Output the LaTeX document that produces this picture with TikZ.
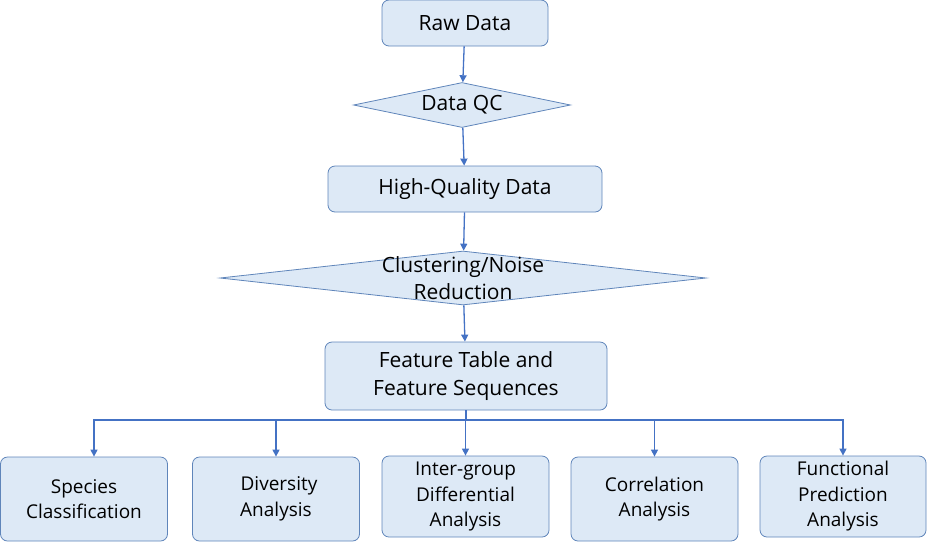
\documentclass[tikz,border=0pt]{standalone}
\usepackage{fontspec}
\setmainfont{Open Sans}
\usetikzlibrary{shapes.geometric,arrows.meta,positioning}
\definecolor{boxfill}{RGB}{221,233,246}
\definecolor{boxline}{RGB}{95,133,186}
\definecolor{flowline}{RGB}{68,114,196}

\begin{document}
\begin{tikzpicture}[x=1pt,y=-1pt,
		proc/.style={draw=boxline, fill=boxfill, rounded corners=7pt, line width=0.8pt, align=center, inner sep=0pt, font=\fontsize{21}{28}\selectfont},
		decide/.style={diamond, draw=boxline, fill=boxfill, line width=0.8pt, inner sep=0pt, aspect=4.8, font=\fontsize{21}{28}\selectfont},
		leaf/.style={proc, minimum width=167pt, minimum height=84pt, font=\fontsize{19}{25.5}\selectfont},
		flow/.style={draw=flowline, line width=1.3pt, -{Triangle[width=7pt,length=7pt]}}]
			\useasboundingbox (0,0) rectangle (928,547);

			\node[proc, minimum width=166pt, minimum height=46pt] (raw) at (465,23) {Raw Data};
			\node[decide, minimum width=217pt, minimum height=45pt] (qc) at (462,105) {Data QC};
			\node[proc, minimum width=274pt, minimum height=46pt] (hq) at (465,189) {High-Quality Data};
			\node[decide, minimum width=486pt, minimum height=54pt] (cluster) at (463,278) {};
			\node[align=center, inner sep=0pt, font=\fontsize{21}{27}\selectfont] (clustertext) at (cluster) {Clustering/Noise\\Reduction};
			\node[proc, minimum width=282pt, minimum height=68pt] (feat) at (466,376) {Feature Table and\\Feature Sequences};

			\node[leaf] (species) at (84,499) {Species\\Classification};
			\node[leaf, minimum height=84pt] (diversity) at (276,499) {\hspace{6pt}Diversity\\Analysis};
			\node[leaf, minimum height=81pt] (intergroup) at (465.5,496.5) {Inter-group\\Differential\\Analysis};
			\node[leaf] (correlation) at (654.5,499) {Correlation\\Analysis};
			\node[leaf, minimum width=166pt, minimum height=81pt] (functional) at (843,496.5) {Functional\\Prediction\\Analysis};

			\draw[flow] (raw) -- (qc);
			\draw[flow] (qc) -- (hq);
			\draw[flow] (hq) -- (cluster);
			\draw[flow] (cluster) -- (feat);

			\coordinate (fork) at (feat.south |- 0,420);
			\draw[flowline, line width=1.3pt] (feat.south) -- (fork);
			\draw[flow] (fork) -| ([xshift=10pt]species.north);
			\foreach \leafname in {diversity,intergroup,correlation,functional}
				\draw[flow] (fork) -| (\leafname.north);

		\end{tikzpicture}
\end{document}
